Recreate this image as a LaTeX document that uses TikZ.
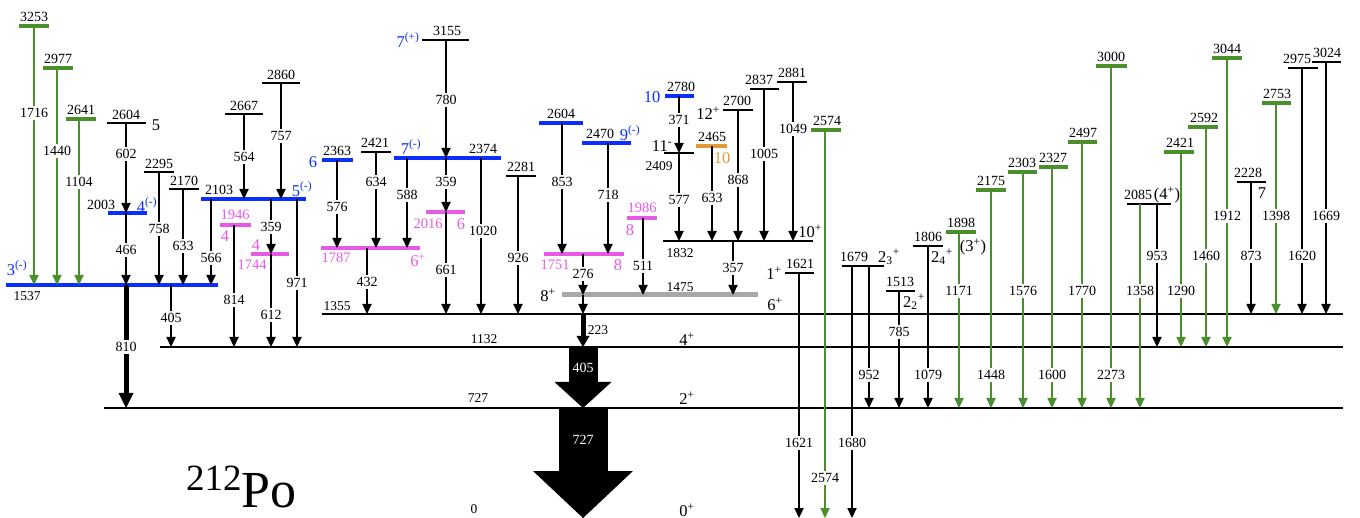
\documentclass[tikz,border=0pt]{standalone}
\usepackage{fontspec}
\setmainfont{Liberation Serif}
\usetikzlibrary{arrows.meta}
\definecolor{poblue}{HTML}{0A2EFF}
\definecolor{pogreen}{HTML}{4A8F2C}
\definecolor{pomag}{HTML}{E65AE6}
\definecolor{poorange}{HTML}{E39A3B}
\definecolor{pogray}{HTML}{A8A8A8}
\newcommand{\elabfont}{\fontsize{14}{14}\selectfont}
\newcommand{\glabfont}{\fontsize{13.5}{13.5}\selectfont}
\newcommand{\mlabfont}{\fontsize{14.5}{14.5}\selectfont}
\newcommand{\spinfont}{\fontsize{16.5}{16.5}\selectfont}

\begin{document}
\begin{tikzpicture}[x=1pt,y=-1pt,
  base/.style={line width=2.5pt},
  lev/.style={line width=2.7pt},
  blev/.style={poblue,line width=4.5pt},
  glev/.style={pogreen,line width=4pt},
  mlev/.style={pomag,line width=4.5pt},
  olev/.style={poorange,line width=4.5pt},
  ylev/.style={pogray,line width=5pt},
  tr/.style={line width=2.7pt,-{Triangle[length=10pt,width=9.5pt,line width=0pt]}},
  gtr/.style={pogreen,line width=2.2pt,-{Triangle[length=10pt,width=9.5pt,line width=0pt]}},
  fattr/.style={line width=5pt,-{Triangle[length=15pt,width=15pt,line width=0pt]}},
  fatsm/.style={line width=5pt,-{Triangle[length=11pt,width=13pt,line width=0pt]}},
  blocka/.style={line width=29pt,-{Triangle[length=26pt,width=57pt,line width=0pt]}},
  blockb/.style={line width=49pt,-{Triangle[length=47pt,width=100pt,line width=0pt]}},
  lab/.style={fill=white,text=black,inner xsep=0.5pt,inner ysep=2pt,font=\elabfont},
  wlab/.style={white,inner sep=0pt,font=\fontsize{14}{14}\selectfont},
  elab/.style={anchor=south,inner sep=0.5pt,font=\elabfont},
  nlab/.style={inner sep=0pt,font=\glabfont},
  mtxt/.style={pomag,inner sep=0pt,font=\mlabfont},
  spin/.style={inner sep=0pt,font=\spinfont}
]
\useasboundingbox (0,0) rectangle (1360,518);

\coordinate (l0) at (0,518);
\draw[base] (104,408) coordinate (l727) -- (1343,408);
\draw[base] (160,347) coordinate (l1132) -- (1343,347);
\draw[base] (322,314) coordinate (l1355) -- (1343,314);
\draw[ylev] (562,295) coordinate (l1475) -- (758,295);
\draw[blev] (6,285) coordinate (l1537) -- (218,285);
\draw[lev] (663,241) coordinate (l1832) -- (813,241);

\node[nlab] (e0) at (474,509) {0};
\node[nlab] (e727) at (478,398) {727};
\node[nlab] (e1132) at (484,339) {1132};
\node[nlab] (e1355) at (337,306) {1355};
\node[nlab] (e1475) at (680,287) {1475};
\node[nlab] (e1537) at (27,296) {1537};
\node[nlab] (e1832) at (680,253) {1832};
\node[spin] (s0) at (687,510) {0\textsuperscript{+}};
\node[spin] (s727) at (687,398) {2\textsuperscript{+}};
\node[spin] (s1132) at (687,339) {4\textsuperscript{+}};
\node[spin] (s1355) at (775,304) {6\textsuperscript{+}};
\node[spin] (s1475) at (548,295) {8\textsuperscript{+}};
\node[spin,poblue] (s1537) at (17,268) {3\textsuperscript{(-)}};
\node[spin] (s1832) at (810,231) {10\textsuperscript{+}};

\draw[glev] (19,26) coordinate (l3253) -- (49,26);
\draw[glev] (43,68) coordinate (l2977) -- (73,68);
\draw[glev] (66,119) coordinate (l2641) -- (96,119);
\draw[lev] (107,123) coordinate (l2604a) -- (146,123);
\draw[blev] (108,213) coordinate (l2003) -- (147,213);
\draw[lev] (144,172) coordinate (l2295) -- (174,172);
\draw[lev] (169,189) coordinate (l2170) -- (199,189);
\draw[blev] (201,199) coordinate (l2103) -- (306,199);
\draw[mlev] (220,225) coordinate (l1946) -- (251,225);
\draw[mlev] (251,254) coordinate (l1744) -- (289,254);
\draw[lev] (225,114) coordinate (l2667) -- (263,114);
\draw[lev] (262,83) coordinate (l2860) -- (300,83);

\node[elab] (e3253) at (34,22) {3253};
\node[elab] (e2977) at (58,64) {2977};
\node[elab] (e2641) at (81,115) {2641};
\node[elab] (e2604a) at (126,120) {2604};
\node[spin] (s2604a) at (156,125) {5};
\node[elab] (e2003) at (101,210) {2003};
\node[spin,poblue] (s2003) at (147,205) {4\textsuperscript{(-)}};
\node[elab] (e2295) at (159,169) {2295};
\node[elab] (e2170) at (184,186) {2170};
\node[elab] (e2103) at (219,195) {2103};
\node[spin,poblue] (s2103) at (302,189) {5\textsuperscript{(-)}};
\node[mtxt] (e1946) at (235,215) {1946};
\node[spin,pomag] (s1946) at (225,236) {4};
\node[mtxt] (e1744) at (252,265) {1744};
\node[spin,pomag] (s1744) at (256,245) {4};
\node[elab] (e2667) at (244,111) {2667};
\node[elab] (e2860) at (281,80) {2860};

\draw[blev] (322,160) coordinate (l2363) -- (353,160);
\draw[lev] (361,152) coordinate (l2421a) -- (391,152);
\draw[blev] (394,158) coordinate (l2374) -- (501,158);
\draw[mlev] (426,212) coordinate (l2016) -- (465,212);
\draw[mlev] (321,248) coordinate (l1787) -- (420,248);
\draw[lev] (422,40) coordinate (l3155) -- (469,40);
\draw[lev] (506,176) coordinate (l2281) -- (536,176);
\draw[blev] (539,123) coordinate (l2604b) -- (583,123);
\draw[blev] (582,143) coordinate (l2470) -- (631,143);
\draw[mlev] (544,254) coordinate (l1751) -- (624,254);
\draw[mlev] (627,218) coordinate (l1986) -- (657,218);
\draw[blev] (665,96) coordinate (l2780) -- (694,96);
\draw[lev] (664,153) coordinate (l2409) -- (694,153);
\draw[olev] (696,146) coordinate (l2465) -- (727,146);
\draw[lev] (723,110) coordinate (l2700) -- (753,110);
\draw[lev] (750,89) coordinate (l2837) -- (779,89);
\draw[lev] (777,82) coordinate (l2881) -- (807,82);
\draw[lev] (785,273) coordinate (l1621) -- (814,273);
\draw[glev] (811,130) coordinate (l2574) -- (841,130);

\node[elab] (e2363) at (337,156) {2363};
\node[spin,poblue] (s2363) at (313,162) {6};
\node[elab] (e2421a) at (375,148) {2421};
\node[elab] (e2374) at (483,154) {2374};
\node[spin,poblue] (s2374) at (411,147) {7\textsuperscript{(-)}};
\node[mtxt] (e2016) at (428,224) {2016};
\node[spin,pomag] (s2016) at (461,224) {6};
\node[mtxt] (e1787) at (336,258) {1787};
\node[spin,pomag] (s1787) at (418,260) {6\textsuperscript{+}};
\node[elab] (e3155) at (447,36) {3155};
\node[spin,poblue] (s3155) at (408,40) {7\textsuperscript{(+)}};
\node[elab] (e2281) at (521,172) {2281};
\node[elab] (e2604b) at (561,119) {2604};
\node[elab] (e2470) at (600,139) {2470};
\node[spin,poblue] (s2470) at (630,133) {9\textsuperscript{(-)}};
\node[mtxt] (e1751) at (555,265) {1751};
\node[spin,pomag] (s1751) at (618,265) {8};
\node[mtxt] (e1986) at (642,208) {1986};
\node[spin,pomag] (s1986) at (630,230) {8};
\node[elab] (e2780) at (681,92) {2780};
\node[spin,poblue] (s2780) at (652,97) {10};
\node[nlab] (e2409) at (659,166) {2409};
\node[spin] (s2409) at (662,146) {11\textsuperscript{-}};
\node[elab] (e2465) at (712,142) {2465};
\node[spin,poorange] (s2465) at (722,158) {10};
\node[elab] (e2700) at (737,106) {2700};
\node[spin] (s2700) at (708,113) {12\textsuperscript{+}};
\node[elab] (e2837) at (759,85) {2837};
\node[elab] (e2881) at (792,78) {2881};
\node[elab] (e1621) at (800,269) {1621};
\node[spin] (s1621) at (774,273) {1\textsuperscript{+}};
\node[elab] (e2574) at (827,126) {2574};

\draw[lev] (842,266) coordinate (l1679) -- (884,266);
\draw[lev] (886,291) coordinate (l1513) -- (915,291);
\draw[lev] (913,246) coordinate (l1806) -- (943,246);
\draw[glev] (946,232) coordinate (l1898) -- (976,232);
\draw[glev] (976,190) coordinate (l2175) -- (1006,190);
\draw[glev] (1008,172) coordinate (l2303) -- (1037,172);
\draw[glev] (1039,167) coordinate (l2327) -- (1068,167);
\draw[glev] (1068,142) coordinate (l2497) -- (1097,142);
\draw[glev] (1096,66) coordinate (l3000) -- (1127,66);
\draw[lev] (1127,204) coordinate (l2085) -- (1171,204);
\draw[glev] (1164,152) coordinate (l2421b) -- (1194,152);
\draw[glev] (1188,127) coordinate (l2592) -- (1218,127);
\draw[glev] (1212,58) coordinate (l3044) -- (1242,58);
\draw[lev] (1237,182) coordinate (l2228) -- (1266,182);
\draw[glev] (1262,103) coordinate (l2753) -- (1291,103);
\draw[lev] (1288,68) coordinate (l2975) -- (1318,68);
\draw[lev] (1312,62) coordinate (l3024) -- (1341,62);

\node[elab] (e1679) at (854,262) {1679};
\node[spin] (s1679) at (889,257) {2\textsubscript{3}\textsuperscript{+}};
\node[elab] (e1513) at (900,287) {1513};
\node[spin] (s1513) at (914,302) {2\textsubscript{2}\textsuperscript{+}};
\node[elab] (e1806) at (928,242) {1806};
\node[spin] (s1806) at (942,257) {2\textsubscript{4}\textsuperscript{+}};
\node[elab] (e1898) at (961,228) {1898};
\node[spin] (s1898) at (973,247) {(3\textsuperscript{+})};
\node[elab] (e2175) at (991,186) {2175};
\node[elab] (e2303) at (1022,168) {2303};
\node[elab] (e2327) at (1053,163) {2327};
\node[elab] (e2497) at (1083,138) {2497};
\node[elab] (e3000) at (1111,62) {3000};
\node[elab] (e2085) at (1138,200) {2085};
\node[spin] (s2085) at (1167,195) {(4\textsuperscript{+})};
\node[elab] (e2421b) at (1180,148) {2421};
\node[elab] (e2592) at (1204,123) {2592};
\node[elab] (e3044) at (1227,54) {3044};
\node[elab] (e2228) at (1248,178) {2228};
\node[spin] (s2228) at (1262,193) {7};
\node[elab] (e2753) at (1277,99) {2753};
\node[elab] (e2975) at (1297,64) {2975};
\node[elab] (e3024) at (1327,58) {3024};

\draw[gtr] (34,0 |- l3253) -- (34,0 |- l1537) node[lab] (t1716) at (34,113) {1716};
\draw[gtr] (57,0 |- l2977) -- (57,0 |- l1537) node[lab] (t1440) at (57,151) {1440};
\draw[gtr] (79,0 |- l2641) -- (79,0 |- l1537) node[lab] (t1104) at (79,182) {1104};
\draw[tr] (126,0 |- l2604a) -- (126,0 |- l2003) node[lab] (t602) at (126,154) {602};
\draw[tr] (126,0 |- l2003) -- (126,0 |- l1537) node[lab] (t466) at (126,250) {466};
\draw[tr] (159,0 |- l2295) -- (159,0 |- l1537) node[lab] (t758) at (159,229) {758};
\draw[tr] (183,0 |- l2170) -- (183,0 |- l1537) node[lab] (t633a) at (183,246) {633};
\draw[tr] (211,0 |- l2103) -- (211,0 |- l1537) node[lab] (t566) at (211,258) {566};
\draw[tr] (244,0 |- l2667) -- (244,0 |- l2103) node[lab] (t564) at (244,157) {564};
\draw[tr] (281,0 |- l2860) -- (281,0 |- l2103) node[lab] (t757) at (281,136) {757};
\draw[tr] (234,0 |- l1946) -- (234,0 |- l1132) node[lab] (t814) at (234,300) {814};
\draw[tr] (271,0 |- l2103) -- (271,0 |- l1744) node[lab] (t359a) at (271,227) {359};
\draw[tr] (271,0 |- l1744) -- (271,0 |- l1132) node[lab] (t612) at (271,315) {612};
\draw[tr] (297,0 |- l2103) -- (297,0 |- l1132) node[lab] (t971) at (297,283) {971};
\draw[fattr] (126,0 |- l1537) -- (126,0 |- l727) node[lab] (t810) at (126,347) {810};
\draw[tr] (171,0 |- l1537) -- (171,0 |- l1132) node[lab] (t405a) at (171,318) {405};

\draw[tr] (337,0 |- l2363) -- (337,0 |- l1787) node[lab] (t576) at (337,207) {576};
\draw[tr] (376,0 |- l2421a) -- (376,0 |- l1787) node[lab] (t634) at (376,182) {634};
\draw[tr] (407,0 |- l2374) -- (407,0 |- l1787) node[lab] (t588) at (407,195) {588};
\draw[tr] (446,0 |- l3155) -- (446,0 |- l2374) node[lab] (t780) at (446,100) {780};
\draw[tr] (446,0 |- l2374) -- (446,0 |- l2016) node[lab] (t359b) at (446,182) {359};
\draw[tr] (446,0 |- l2016) -- (446,0 |- l1355) node[lab] (t661) at (446,270) {661};
\draw[tr] (481,0 |- l2374) -- (481,0 |- l1355) node[lab] (t1020) at (483,231) {1020};
\draw[tr] (367,0 |- l1787) -- (367,0 |- l1355) node[lab] (t432) at (367,282) {432};
\draw[tr] (518,0 |- l2281) -- (518,0 |- l1355) node[lab] (t926) at (518,258) {926};
\draw[tr] (562,0 |- l2604b) -- (562,0 |- l1751) node[lab] (t853) at (562,182) {853};
\draw[tr] (608,0 |- l2470) -- (608,0 |- l1751) node[lab] (t718) at (608,195) {718};
\draw[tr] (583,0 |- l1751) -- (583,0 |- l1475) node[lab] (t276) at (583,274) {276};
\draw[tr] (583,0 |- l1475) -- (583,0 |- l1355);
\draw[fatsm] (583,0 |- l1355) -- (583,0 |- l1132) node[nlab] (t223) at (598,330) {223};
\draw[tr] (643,0 |- l1986) -- (643,0 |- l1475) node[lab] (t511) at (643,266) {511};
\draw[tr] (679,0 |- l2780) -- (679,0 |- l2409) node[lab] (t371) at (679,120) {371};
\draw[tr] (679,0 |- l2409) -- (679,0 |- l1832) node[lab] (t577) at (679,200) {577};
\draw[tr] (712,0 |- l2465) -- (712,0 |- l1832) node[lab] (t633b) at (712,198) {633};
\draw[tr] (738,0 |- l2700) -- (738,0 |- l1832) node[lab] (t868) at (738,180) {868};
\draw[tr] (764,0 |- l2837) -- (764,0 |- l1832) node[lab] (t1005) at (764,154) {1005};
\draw[tr] (793,0 |- l2881) -- (793,0 |- l1832) node[lab] (t1049) at (793,129) {1049};
\draw[tr] (733,0 |- l1832) -- (733,0 |- l1475) node[lab] (t357) at (733,268) {357};
\draw[tr] (799,0 |- l1621) -- (799,0 |- l0) node[lab] (t1621) at (799,443) {1621};
\draw[gtr] (825,0 |- l2574) -- (825,0 |- l0) node[lab] (t2574) at (825,478) {2574};
\draw[blocka] (583,0 |- l1132) -- (583,0 |- l727) node[wlab] (t405b) at (583,368) {405};
\draw[blockb] (583,0 |- l727) -- (583,0 |- l0) node[wlab] (t727) at (583,440) {727};

\draw[tr] (852,0 |- l1679) -- (852,0 |- l0) node[lab] (t1680) at (852,443) {1680};
\draw[tr] (869,0 |- l1679) -- (869,0 |- l727) node[lab] (t952) at (869,375) {952};
\draw[tr] (899,0 |- l1513) -- (899,0 |- l727) node[lab] (t785) at (899,332) {785};
\draw[tr] (928,0 |- l1806) -- (928,0 |- l727) node[lab] (t1079) at (928,375) {1079};
\draw[gtr] (959,0 |- l1898) -- (959,0 |- l727) node[lab] (t1171) at (959,291) {1171};
\draw[gtr] (991,0 |- l2175) -- (991,0 |- l727) node[lab] (t1448) at (991,375) {1448};
\draw[gtr] (1023,0 |- l2303) -- (1023,0 |- l727) node[lab] (t1576) at (1023,291) {1576};
\draw[gtr] (1052,0 |- l2327) -- (1052,0 |- l727) node[lab] (t1600) at (1052,375) {1600};
\draw[gtr] (1082,0 |- l2497) -- (1082,0 |- l727) node[lab] (t1770) at (1082,291) {1770};
\draw[gtr] (1111,0 |- l3000) -- (1111,0 |- l727) node[lab] (t2273) at (1111,375) {2273};
\draw[gtr] (1140,0 |- l2085) -- (1140,0 |- l727) node[lab] (t1358) at (1140,291) {1358};
\draw[tr] (1157,0 |- l2085) -- (1157,0 |- l1132) node[lab] (t953) at (1157,256) {953};
\draw[gtr] (1181,0 |- l2421b) -- (1181,0 |- l1132) node[lab] (t1290) at (1181,291) {1290};
\draw[gtr] (1206,0 |- l2592) -- (1206,0 |- l1132) node[lab] (t1460) at (1206,256) {1460};
\draw[gtr] (1227,0 |- l3044) -- (1227,0 |- l1132) node[lab] (t1912) at (1227,216) {1912};
\draw[tr] (1251,0 |- l2228) -- (1251,0 |- l1355) node[lab] (t873) at (1251,256) {873};
\draw[gtr] (1276,0 |- l2753) -- (1276,0 |- l1355) node[lab] (t1398) at (1276,216) {1398};
\draw[tr] (1302,0 |- l2975) -- (1302,0 |- l1355) node[lab] (t1620) at (1302,256) {1620};
\draw[tr] (1326,0 |- l3024) -- (1326,0 |- l1355) node[lab] (t1669) at (1326,216) {1669};

\node[inner sep=0pt,anchor=base west] (po) at (186,507) {{\fontsize{37}{37}\selectfont\raisebox{17pt}{212}}{\fontsize{52}{52}\selectfont Po}};
\end{tikzpicture}
\end{document}
